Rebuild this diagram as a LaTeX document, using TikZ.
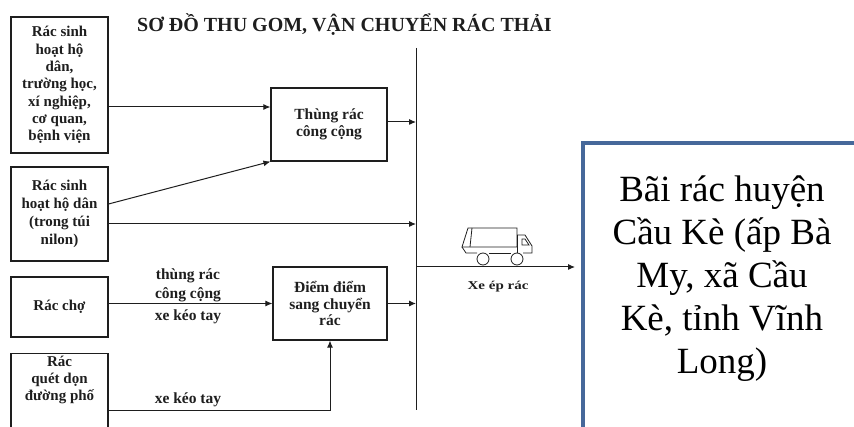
\documentclass[tikz,border=0pt]{standalone}
\usepackage{fontspec}
\setmainfont{Liberation Serif}
\usetikzlibrary{arrows.meta,calc}
\definecolor{ink}{HTML}{1E1E1E}
\definecolor{bluebd}{HTML}{46689A}
\tikzset{
  box/.style={draw=ink, line width=1.1pt, minimum width=97pt, inner sep=0pt, align=center,
    font=\fontsize{15}{17.3}\selectfont\bfseries, text=ink},
  midbox/.style={draw=ink, line width=1.1pt, inner sep=0pt, align=center,
    font=\fontsize{15.5}{16.5}\selectfont\bfseries, text=ink},
  lbl/.style={align=center, inner sep=0pt, font=\fontsize{15.5}{19}\selectfont\bfseries, text=ink},
  arr/.style={draw=ink, line width=1pt, -{Latex[length=7pt,width=6pt]}},
  ln/.style={draw=ink, line width=1pt},
}
\begin{document}
\begin{tikzpicture}[x=1pt,y=-1pt]
\useasboundingbox (0,0) rectangle (854,427);
% title
\node[anchor=west, inner sep=0pt, font=\fontsize{20}{22}\selectfont\bfseries, text=ink] (title) at (137,25) {SƠ ĐỒ THU GOM, VẬN CHUYỂN RÁC THẢI};
% source boxes
\node[box, minimum height=136pt] (b1) at (59.5,85) {Rác sinh\\hoạt hộ\\dân,\\trường học,\\xí nghiệp,\\cơ quan,\\bệnh viện};
\node[box, minimum height=94pt, font=\fontsize{15}{18}\selectfont\bfseries] (b2) at (59.5,214) {Rác sinh\\hoạt hộ dân\\(trong túi\\nilon)};
\node[box, minimum height=60pt] (b3) at (59.5,307) {Rác chợ};
\node[box, minimum height=90pt, anchor=north] (b4) at (59.5,353) {};
\node[lbl, font=\fontsize{15}{17}\selectfont\bfseries] (t4) at (59.5,380) {Rác\\quét dọn\\đường phố};
% middle boxes
\node[midbox, minimum width=116pt, minimum height=73pt] (thung) at (329,124.5) {Thùng rác\\công cộng};
\node[midbox, minimum width=114pt, minimum height=73pt] (diem) at (330,303.5) {Điểm điểm\\sang chuyển\\rác};
% vertical collector
\coordinate (vtop) at (416,48);
\coordinate (vbot) at (416,410);
\draw[ln] (vtop) -- (vbot);
% connectors
\draw[arr] (b1.east |- 0,107) -- (thung.west |- 0,107);
\draw[arr] (b2.east |- 0,204) -- (thung.south west);
\draw[arr] (thung.east |- 0,122) -- (vtop |- 0,122);
\draw[arr] (b2.east |- 0,224) -- (vtop |- 0,224);
\draw[arr] (b3.east |- diem.west) -- (diem.west);
\draw[arr] (diem.east) -- (vtop |- diem.east);
\draw[arr] (b4.east |- 0,410) -| (diem.south);
% labels
\node[lbl] (l1) at (188,285) {thùng rác\\công cộng};
\node[lbl] (l2) at (188,317) {xe kéo tay};
\node[lbl] (l3) at (188,400) {xe kéo tay};
% output
\coordinate (out) at (575,267);
\draw[arr] (vtop |- out) -- (out);
\node[inner sep=0pt, font=\fontsize{12}{13}\selectfont\bfseries, text=ink] (xe) at (498,287) {\scalebox{1.25}[1]{Xe ép rác}};
% truck icon
\begin{scope}[draw=ink, line width=0.8pt]
  \draw (468,228) -- (517,228) -- (517,247) -- (462,247) -- cycle;
  \draw (472,228) -- (470,247);
  \draw (462,247) -- (466,253) -- (477,253);
  \draw (489,253) -- (511,253);
  \draw (517,235) -- (525,235) -- (532,246) -- (532,253) -- (523,253);
  \draw (517,235) -- (517,253);
  \draw (522,239) -- (525,239) -- (529,245) -- (522,245) -- cycle;
  \draw (483,259) circle (6);
  \draw (517,259) circle (6);
\end{scope}
% destination
\draw[draw=bluebd, line width=4pt] (583,143) rectangle (880,450);
\node[align=center, inner sep=0pt, font=\fontsize{37}{43}\selectfont, text=black] (dest) at (722,279)
  {Bãi rác huyện\\Cầu Kè (ấp Bà\\My, xã Cầu\\Kè, tỉnh Vĩnh\\Long)};
\end{tikzpicture}
\end{document}
